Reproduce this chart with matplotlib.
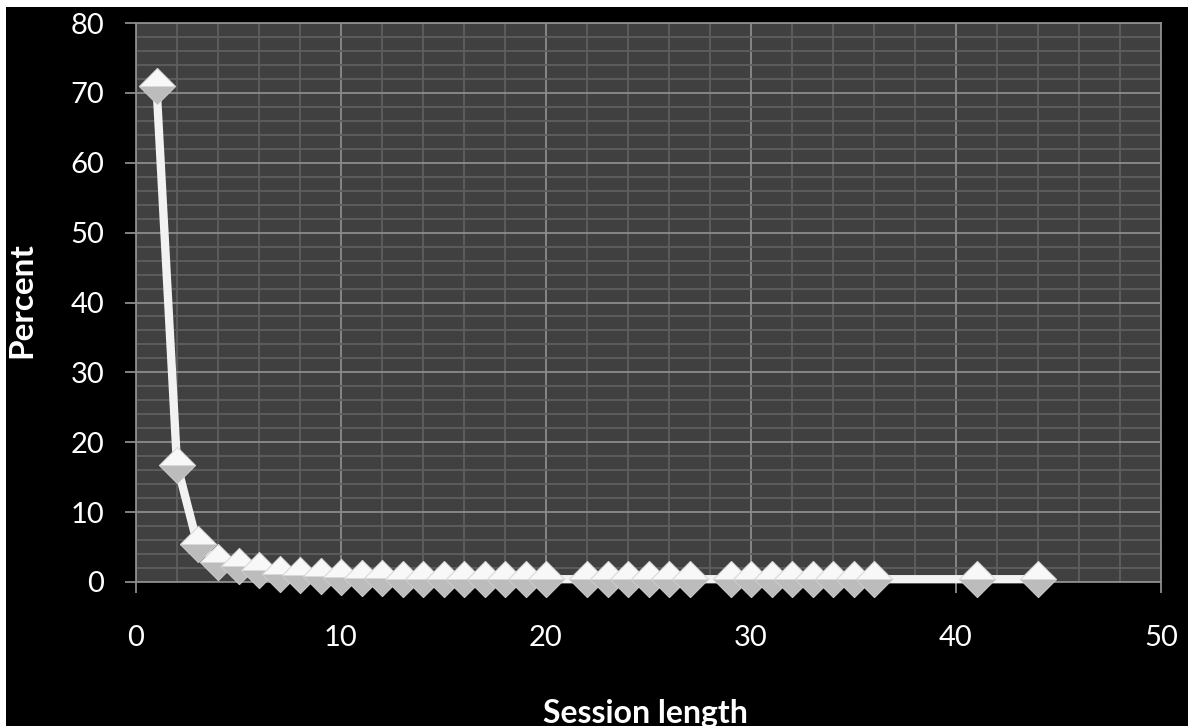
import matplotlib.pyplot as plt
from matplotlib.path import Path
from matplotlib.patches import Rectangle
from matplotlib.ticker import MultipleLocator

# session length vs percent of sessions
session_len = [1, 2, 3, 4, 5, 6, 7, 8, 9, 10,
               11, 12, 13, 14, 15, 16, 17, 18, 19, 20,
               22, 23, 24, 25, 26, 27,
               29, 30, 31, 32, 33, 34, 35, 36,
               41, 44]
percent = [71.0, 16.8, 5.4, 2.9, 2.3, 1.7, 1.2, 1.0, 0.8, 0.7,
           0.6, 0.6, 0.5, 0.5, 0.5, 0.4, 0.4, 0.4, 0.4, 0.4,
           0.4, 0.4, 0.4, 0.4, 0.4, 0.4,
           0.4, 0.4, 0.4, 0.4, 0.4, 0.4, 0.4, 0.4,
           0.4, 0.4]

plt.rcParams['font.family'] = ['Lato', 'DejaVu Sans']

fig = plt.figure(figsize=(11.88, 7.26), dpi=100, facecolor='white')
# black chart area (small white strip at top/left like the screenshot)
fig.patches.append(Rectangle((6 / 1188, 0), 1, 1 - 7 / 726, transform=fig.transFigure,
                             facecolor='black', edgecolor='none', zorder=-10))

ax = fig.add_axes([136 / 1188, 1 - 582 / 726, 1025 / 1188, 559 / 726])
ax.set_facecolor('#404040')
ax.set_xlim(0, 50)
ax.set_ylim(0, 80)
ax.xaxis.set_major_locator(MultipleLocator(10))
ax.xaxis.set_minor_locator(MultipleLocator(2))
ax.yaxis.set_major_locator(MultipleLocator(10))
ax.yaxis.set_minor_locator(MultipleLocator(2))
ax.grid(which='major', color='#8c8c8c', lw=1.3)
ax.grid(which='minor', color='#5e5e5e', lw=1.3)
ax.set_axisbelow(True)
for s in ax.spines.values():
    s.set_color('#8c8c8c')
    s.set_linewidth(1.3)
ax.tick_params(which='major', direction='out', length=8, width=1.3, color='#8c8c8c',
               labelcolor='white', labelsize=21)
ax.tick_params(which='minor', length=0)
ax.tick_params(axis='y', pad=15)
ax.tick_params(axis='x', pad=23)

# line
ax.plot(session_len, percent, color='#f2f2f2', lw=6, solid_capstyle='round',
        clip_on=False, zorder=3)

# diamond markers: white top, shaded lower half
diamond = Path([(0, 1), (1, 0), (0, -1), (-1, 0), (0, 1)])
lower = Path([(-1, 0), (1, 0), (0, -1), (-1, 0)])
for i, (xv, yv) in enumerate(zip(session_len, percent)):
    ax.plot(xv, yv, marker=diamond, ms=26, mfc='#f8f8f8', mec='#d8d8d8', mew=0.8,
            ls='none', clip_on=False, zorder=4 + 2 * i)
    ax.plot(xv, yv, marker=lower, ms=26, mfc='#bcbcbc', mec='none',
            ls='none', clip_on=False, zorder=5 + 2 * i)

fig.text(22 / 1188, 1 - 300 / 726, 'Percent', rotation=90, ha='center', va='center',
         color='white', fontsize=24, fontweight='bold')
fig.text(645 / 1188, 1 - 699 / 726, 'Session length', ha='center', va='top',
         color='white', fontsize=23, fontweight='bold')

fig.savefig('out.png', dpi=100, facecolor=fig.get_facecolor())
